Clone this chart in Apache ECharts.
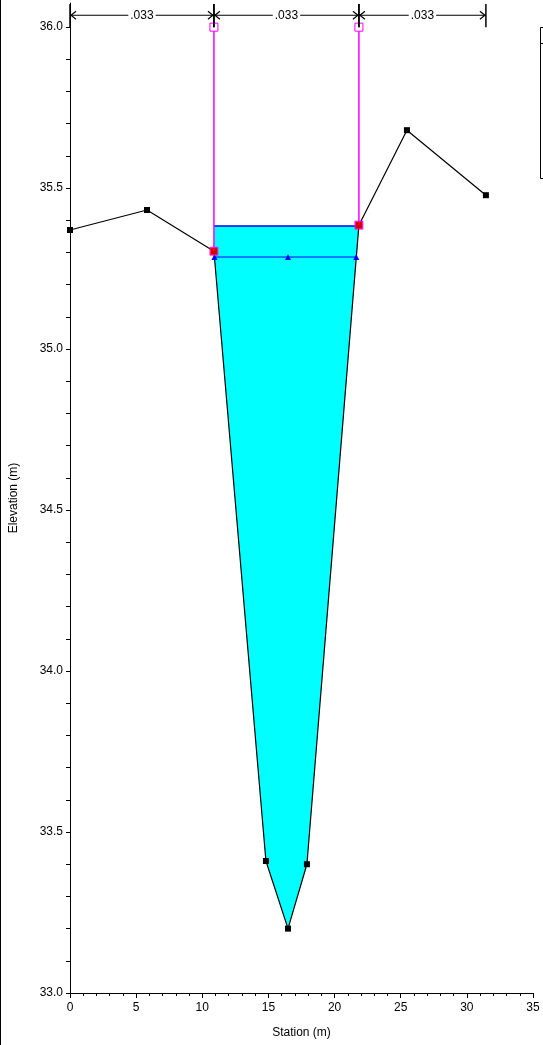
<!DOCTYPE html>
<html>
<head>
<meta charset="utf-8">
<script src="https://cdn.jsdelivr.net/npm/echarts@6/dist/echarts.min.js"></script>
<style>
html,body{margin:0;padding:0;background:#fff;}
#chart{width:543px;height:1045px;}
</style>
</head>
<body>
<div id="chart"></div>
<script>
// ---- data ----
var groundStation = [0, 5.82, 10.88, 14.81, 16.48, 17.91, 21.84, 25.47, 31.44];
var groundElev    = [35.37, 35.432, 35.304, 33.41, 33.20, 33.40, 35.385, 35.68, 35.478];
var bankStation   = [10.88, 21.84];
var bankElev      = [35.304, 35.385];
var leveeTop      = [36.0, 36.0];
var wsElev        = 35.382;
var critStation   = [10.92, 16.48, 21.64];
var critElev      = 35.286;
var nBreaks       = [0, 10.88, 21.84, 31.44];
var nValues       = ['.033', '.033', '.033'];
var yLabelValues  = [33.0, 33.5, 34.0, 34.5, 35.0, 35.5, 36.0];
var xMin = 0, xMax = 35, yMin = 33, yMax = 36.075;
var nLineElev = 36.037, nTickBottom = 36.0, nTickTop = 36.072;

// ---- derived ----
var groundData = groundStation.map(function (s, i) { return [s, groundElev[i]]; });
var yTickValues = [];
for (var k = 0; k <= 30; k++) yTickValues.push(+(yMin + k * 0.1).toFixed(1));

// water polygon: WS at banks, ground between banks clamped to WS
var waterPoly = [[bankStation[0], wsElev], [bankStation[1], wsElev]];
for (var i = groundStation.length - 1; i >= 0; i--) {
  if (groundStation[i] >= bankStation[0] && groundStation[i] <= bankStation[1]) {
    waterPoly.push([groundStation[i], Math.min(groundElev[i], wsElev)]);
  }
}
var nData = nValues.map(function (v, i) { return [nBreaks[i], nBreaks[i + 1], v]; });

var font = 'Liberation Sans, Arial, sans-serif';
var chart = echarts.init(document.getElementById('chart'), null, {renderer: 'canvas'});

var option = {
  backgroundColor: '#fff',
  animation: false,
  grid: {left: 70, right: 10, top: 3, bottom: 52, containLabel: false, outerBoundsMode: 'none'},
  xAxis: {
    type: 'value', min: xMin, max: xMax, interval: 5,
    name: 'Station (m)', nameLocation: 'middle', nameGap: 34,
    nameTextStyle: {color: '#000', fontSize: 12, fontFamily: font},
    axisLine: {show: true, onZero: false, lineStyle: {color: '#000', width: 1}},
    axisTick: {show: true, length: 5, lineStyle: {color: '#000'}},
    minorTick: {show: true, splitNumber: 5, length: 3, lineStyle: {color: '#000'}},
    axisLabel: {color: '#000', fontSize: 12, fontFamily: font, margin: 9},
    splitLine: {show: false}
  },
  yAxis: {
    type: 'value', min: yMin, max: yMax,
    name: 'Elevation (m)', nameLocation: 'middle', nameGap: 50,
    nameTextStyle: {color: '#000', fontSize: 12, fontFamily: font},
    axisLine: {show: true, onZero: false, lineStyle: {color: '#000', width: 1}},
    axisTick: {show: true, length: 4, customValues: yTickValues, lineStyle: {color: '#000'}},
    axisLabel: {color: '#000', fontSize: 12, fontFamily: font, margin: 7,
      customValues: yLabelValues,
      formatter: function (v) { return Number(v).toFixed(1); }},
    splitLine: {show: false}
  },
  graphic: [
    {type: 'rect', shape: {x: 0, y: 0, width: 1, height: 1045}, style: {fill: '#000'}, z: 100},
    {type: 'rect', shape: {x: 540.5, y: 27.5, width: 100, height: 151}, style: {fill: '#fff', stroke: '#000', lineWidth: 1}, z: 100},
    {type: 'line', shape: {x1: 540, y1: 43.5, x2: 543, y2: 43.5}, style: {stroke: '#000', lineWidth: 1}, z: 100}
  ],
  series: [
    {
      type: 'custom', name: 'water', z: 1, clip: false,
      data: [0],
      renderItem: function (params, api) {
        var pts = waterPoly.map(function (p) { return api.coord(p); });
        return {type: 'polygon', shape: {points: pts}, style: {fill: '#00FFFF', stroke: null}};
      }
    },
    {
      type: 'line', name: 'Ground', z: 3, data: groundData,
      lineStyle: {color: '#000', width: 1.2},
      symbol: 'rect', symbolSize: 6, itemStyle: {color: '#000'}
    },
    {
      type: 'line', name: 'WS', z: 4,
      data: [[bankStation[0], wsElev], [bankStation[1], wsElev]],
      lineStyle: {color: '#0000FF', width: 1.5}, symbol: 'none'
    },
    {
      type: 'line', name: 'Crit', z: 4,
      data: critStation.map(function (s) { return [s, critElev]; }),
      lineStyle: {color: '#0000FF', width: 1}, symbol: 'triangle', symbolSize: 6,
      itemStyle: {color: '#0000FF'}
    },
    {
      type: 'line', name: 'LeveeL', z: 5,
      data: [{value: [bankStation[0], bankElev[0]], symbol: 'none'}, {value: [bankStation[0], leveeTop[0]], symbol: 'rect'}],
      lineStyle: {color: '#FF00FF', width: 1.5}, symbolSize: 8,
      itemStyle: {color: '#fff', borderColor: '#FF00FF', borderWidth: 1}
    },
    {
      type: 'line', name: 'LeveeR', z: 5,
      data: [{value: [bankStation[1], bankElev[1]], symbol: 'none'}, {value: [bankStation[1], leveeTop[1]], symbol: 'rect'}],
      lineStyle: {color: '#FF00FF', width: 1.5}, symbolSize: 8,
      itemStyle: {color: '#fff', borderColor: '#FF00FF', borderWidth: 1}
    },
    {
      type: 'scatter', name: 'Bank', z: 6,
      data: bankStation.map(function (s, i) { return [s, bankElev[i]]; }),
      symbol: 'rect', symbolSize: 8,
      itemStyle: {color: '#FF0000', borderColor: '#FF00FF', borderWidth: 1}
    },
    {
      type: 'custom', name: 'n', z: 7, clip: false,
      data: nData,
      renderItem: function (params, api) {
        var x0 = api.value(0), x1 = api.value(1), label = nValues[params.dataIndex];
        var a = api.coord([x0, nLineElev]), b = api.coord([x1, nLineElev]);
        var t0b = api.coord([x0, nTickBottom]), t0t = api.coord([x0, nTickTop]);
        var t1b = api.coord([x1, nTickBottom]), t1t = api.coord([x1, nTickTop]);
        var s = {stroke: '#000', lineWidth: 1.2, fill: null};
        var ah = 6, aw = 4;
        return {
          type: 'group',
          children: [
            {type: 'line', shape: {x1: a[0], y1: a[1], x2: b[0], y2: b[1]}, style: s},
            {type: 'polyline', shape: {points: [[a[0] + ah, a[1] - aw], [a[0] + 1, a[1]], [a[0] + ah, a[1] + aw]]}, style: s},
            {type: 'polyline', shape: {points: [[b[0] - ah, b[1] - aw], [b[0] - 1, b[1]], [b[0] - ah, b[1] + aw]]}, style: s},
            {type: 'line', shape: {x1: t0b[0], y1: t0b[1], x2: t0t[0], y2: t0t[1]}, style: {stroke: '#000', lineWidth: 1.5}},
            {type: 'line', shape: {x1: t1b[0], y1: t1b[1], x2: t1t[0], y2: t1t[1]}, style: {stroke: '#000', lineWidth: 1.5}},
            {type: 'text', x: (a[0] + b[0]) / 2, y: a[1],
              style: {text: label, fill: '#000', fontSize: 12, fontFamily: font,
                align: 'center', verticalAlign: 'middle',
                backgroundColor: '#fff', padding: [0, 2]}}
          ]
        };
      }
    }
  ]
};
chart.setOption(option);
</script>
</body>
</html>
